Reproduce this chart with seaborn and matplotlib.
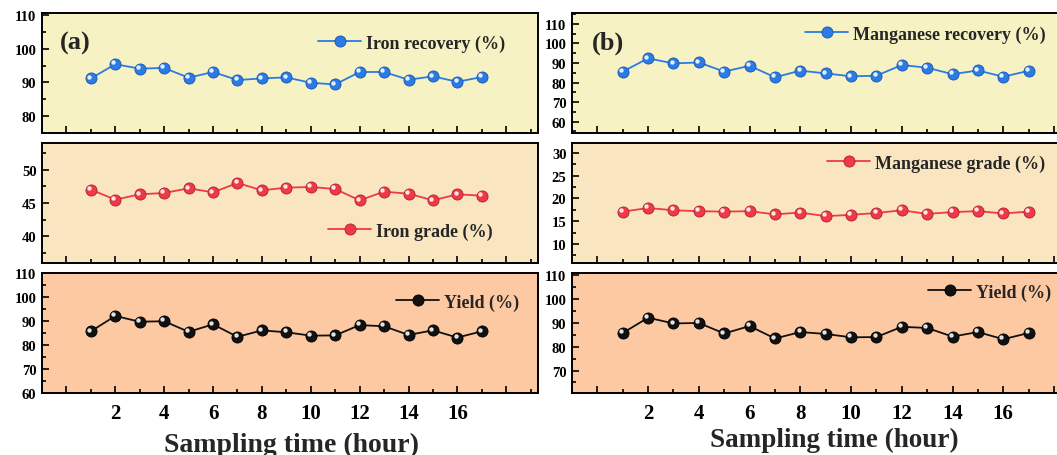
import matplotlib
matplotlib.use('Agg')
import matplotlib.pyplot as plt
import seaborn as sns
import pandas as pd
from matplotlib.ticker import MultipleLocator
from matplotlib.transforms import ScaledTranslation

hours = list(range(1, 18))
iron_recovery = [91.2, 95.4, 94.1, 94.3, 91.4, 93.1, 90.7, 91.2, 91.5,
                 89.9, 89.4, 93.1, 93.1, 90.8, 91.8, 90.2, 91.6]
iron_grade = [47.0, 45.5, 46.3, 46.5, 47.2, 46.6, 48.0, 46.9, 47.3,
              47.4, 47.1, 45.4, 46.7, 46.4, 45.4, 46.3, 46.1]
yield_pct = [85.7, 92.1, 89.7, 89.9, 85.5, 88.6, 83.4, 86.1, 85.3,
             83.9, 84.0, 88.3, 87.8, 84.2, 86.1, 83.1, 85.7]
mn_recovery = [85.6, 92.4, 89.8, 90.3, 85.6, 88.6, 82.7, 86.1, 84.7,
               83.2, 83.5, 89.0, 87.6, 84.3, 86.2, 83.0, 86.0]
mn_grade = [17.1, 17.9, 17.4, 17.2, 17.1, 17.2, 16.5, 16.9, 16.1,
            16.4, 16.8, 17.4, 16.6, 17.0, 17.2, 16.7, 17.1]
xtick_labels = ['', '2', '4', '6', '8', '10', '12', '14', '16', '']

sns.set_style('ticks')
plt.rcParams['font.family'] = ['Liberation Serif', 'DejaVu Serif']
plt.rcParams['font.weight'] = 'bold'

W, H = 1057, 456
fig = plt.figure(figsize=(W / 100, H / 100), dpi=100)

BLUE, RED, BLACK = '#2a7be4', '#ef3a45', '#111111'
BG = ['#f7f2c3', '#f9e6c0', '#fdc9a3']
rows = [(14, 134), (144, 264), (274, 394)]


def make_ax(x0, x1, row):
    y0, y1 = row
    return fig.add_axes([x0 / W, 1 - y1 / H, (x1 - x0) / W, (y1 - y0) / H])


def draw(ax, values, color, edge, label, ylim, major, bg, leg_xy, xlim, bottom):
    df = pd.DataFrame({'hour': hours, 'value': values})
    sns.lineplot(data=df, x='hour', y='value', ax=ax, color=color, lw=1.3,
                 marker='o', markersize=8, markeredgecolor=edge,
                 markeredgewidth=0.6, label=label)
    # little highlight on each ball marker
    shift = ScaledTranslation(-1.3 / 72, 1.3 / 72, fig.dpi_scale_trans)
    ax.plot(hours, values, ls='none', marker='o', ms=2.2, color='white',
            alpha=0.8, transform=ax.transData + shift)
    ax.set_facecolor(bg)
    ax.set_xlim(*xlim)
    ax.set_ylim(*ylim)
    ax.yaxis.set_major_locator(MultipleLocator(major))
    ax.yaxis.set_minor_locator(MultipleLocator(major / 2))
    ax.set_xticks(range(0, 19, 2))
    ax.xaxis.set_minor_locator(MultipleLocator(1))
    ax.set_xticklabels(xtick_labels)
    ax.set_xlabel('')
    ax.set_ylabel('')
    for s in ax.spines.values():
        s.set_visible(True)
        s.set_linewidth(1.4)
        s.set_color('black')
    ax.tick_params(which='both', direction='in', width=1.2, colors='black',
                   top=False, right=False)
    ax.tick_params(which='major', length=5)
    ax.tick_params(which='minor', length=3)
    ax.tick_params(axis='y', labelsize=10.5, pad=4)
    ax.tick_params(axis='x', labelsize=15, pad=7, labelbottom=bottom)
    ax.legend(loc='center left', bbox_to_anchor=(leg_xy[0] / W, 1 - leg_xy[1] / H),
              bbox_transform=fig.transFigure, frameon=False, borderpad=0,
              borderaxespad=0, handlelength=2.4, handletextpad=0.25,
              prop={'family': 'Liberation Serif', 'weight': 'bold', 'size': 13})


# panel (a)
xl_a = (-1, 19.3)
axa = [make_ax(42, 538, r) for r in rows]
draw(axa[0], iron_recovery, BLUE, '#1a55b0', 'Iron recovery (%)', (75, 110.6), 10,
     BG[0], (318, 44), xl_a, False)
draw(axa[1], iron_grade, RED, '#b02030', 'Iron grade (%)', (36, 54), 5,
     BG[1], (328, 232), xl_a, False)
draw(axa[2], yield_pct, BLACK, '#000000', 'Yield (%)', (60, 110), 10,
     BG[2], (396, 303), xl_a, True)

# panel (b) - runs past the right edge of the picture
xl_b = (-1, 19.3)
axb = [make_ax(572, 1087, r) for r in rows]
draw(axb[0], mn_recovery, BLUE, '#1a55b0', 'Manganese recovery (%)', (54.2, 115.6), 10,
     BG[0], (805, 35), xl_b, False)
draw(axb[1], mn_grade, RED, '#b02030', 'Manganese grade (%)', (5.8, 32.2), 5,
     BG[1], (827, 164), xl_b, False)
draw(axb[2], yield_pct, BLACK, '#000000', 'Yield (%)', (60.6, 110.8), 10,
     BG[2], (928, 293), xl_b, True)

fig.text(60 / W, 1 - 43 / H, '(a)', fontsize=19, fontweight='bold', va='center')
fig.text(592 / W, 1 - 43 / H, '(b)', fontsize=19, fontweight='bold', va='center')
fig.text(291 / W, 1 - 452 / H, 'Sampling time (hour)', fontsize=20,
         fontweight='bold', ha='center', va='baseline')
fig.text(834 / W, 1 - 447 / H, 'Sampling time (hour)', fontsize=19.5,
         fontweight='bold', ha='center', va='baseline')

fig.savefig('out.png', dpi=100)
